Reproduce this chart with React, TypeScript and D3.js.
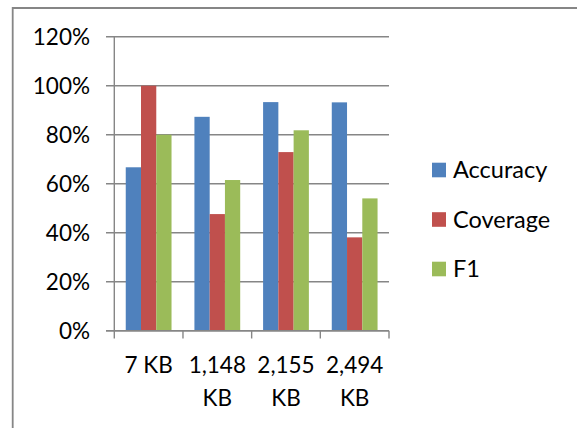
import React from "react";
import * as d3 from "d3";

const categories = [["7 KB"], ["1,148", "KB"], ["2,155", "KB"], ["2,494", "KB"]];
const categoryKeys = ["7 KB", "1,148 KB", "2,155 KB", "2,494 KB"];
const seriesNames = ["Accuracy", "Coverage", "F1"];
const accuracy = [0.667, 0.873, 0.933, 0.932];
const coverage = [1.0, 0.476, 0.729, 0.381];
const f1 = [0.8, 0.615, 0.818, 0.54];
const yTicks = [0, 0.2, 0.4, 0.6, 0.8, 1.0, 1.2];
const colors = ["#4F81BD", "#C0504D", "#9BBB59"];

const W = 577;
const H = 428;
const plotLeft = 114.3;
const plotRight = 389;
const plotTop = 36.7;
const plotBottom = 330.7;
const FONT = "Lato, 'Open Sans', sans-serif";
const GRID = "#868686";

export default function App() {
  const values = [accuracy, coverage, f1];
  const x = d3.scaleBand().domain(categoryKeys).range([plotLeft, plotRight]).padding(0);
  const xs = d3
    .scaleBand()
    .domain(seriesNames)
    .range([0, x.bandwidth()])
    .paddingInner(0)
    .paddingOuter(0.75);
  const y = d3.scaleLinear().domain([0, 1.2]).range([plotBottom, plotTop]);
  const fmt = d3.format(".0%");

  return (
    <svg
      width={W}
      height={H}
      style={{ position: "absolute", left: 0, top: 0, background: "#fff" }}
    >
      <rect x={0} y={0} width={W} height={H} fill="#fff" />
      <path d={`M12.7,${H + 2} L12.7,8 L${W + 2},8`} fill="none" stroke={GRID} strokeWidth={1.8} />
      {yTicks.map((t) => (
        <line
          key={t}
          x1={106}
          x2={plotRight}
          y1={y(t)}
          y2={y(t)}
          stroke={GRID}
          strokeWidth={1.4}
        />
      ))}
      {categoryKeys.map((c, i) =>
        seriesNames.map((s, j) => (
          <rect
            key={c + s}
            x={(x(c) as number) + (xs(s) as number)}
            y={y(values[j][i])}
            width={xs.bandwidth()}
            height={plotBottom - y(values[j][i])}
            fill={colors[j]}
          />
        ))
      )}
      <line x1={plotLeft} x2={plotLeft} y1={plotTop} y2={338.5} stroke={GRID} strokeWidth={1.4} />
      <line x1={106} x2={plotRight} y1={plotBottom} y2={plotBottom} stroke={GRID} strokeWidth={1.4} />
      {categoryKeys.map((c) => (
        <line
          key={"t" + c}
          x1={(x(c) as number) + x.bandwidth()}
          x2={(x(c) as number) + x.bandwidth()}
          y1={plotBottom}
          y2={338.5}
          stroke={GRID}
          strokeWidth={1.4}
        />
      ))}
      {yTicks.map((t) => (
        <text
          key={"l" + t}
          x={90}
          y={y(t)}
          dy="0.36em"
          textAnchor="end"
          fontFamily={FONT}
          fontSize={22.5}
          fill="#000"
        >
          {fmt(t)}
        </text>
      ))}
      {categoryKeys.map((c, i) => (
        <text
          key={"x" + c}
          x={(x(c) as number) + x.bandwidth() / 2}
          y={372.7}
          textAnchor="middle"
          fontFamily={FONT}
          fontSize={22.5}
          fill="#000"
        >
          {categories[i].map((line, k) => (
            <tspan key={k} x={(x(c) as number) + x.bandwidth() / 2} dy={k === 0 ? 0 : 33.3}>
              {line}
            </tspan>
          ))}
        </text>
      ))}
      {seriesNames.map((s, j) => (
        <g key={"lg" + s} transform={`translate(432, ${170 + j * 49.5})`}>
          <rect x={0} y={-7.3} width={14} height={14.6} fill={colors[j]} />
          <text x={21} y={0} dy="0.36em" fontFamily={FONT} fontSize={23.5} fill="#000">
            {s}
          </text>
        </g>
      ))}
    </svg>
  );
}
